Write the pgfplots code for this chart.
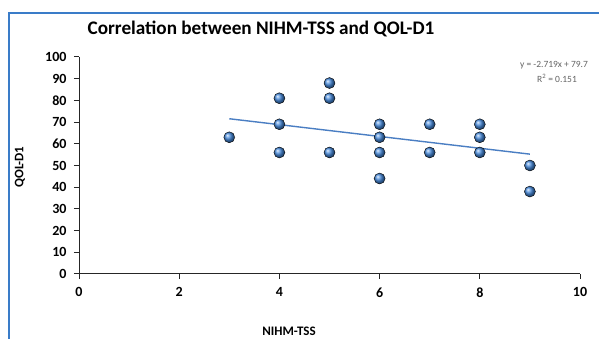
\documentclass[border=0pt]{standalone}
\usepackage{pgfplots}
\pgfplotsset{compat=1.18}
\usepackage{fontspec}
\setmainfont{Carlito}
\definecolor{frameblue}{RGB}{58,124,200}
\definecolor{ballblue}{RGB}{70,138,220}
\definecolor{trendblue}{RGB}{74,126,195}
\definecolor{eqgrey}{RGB}{100,100,100}
\begin{document}
\begin{tikzpicture}[x=1pt,y=1pt]
\useasboundingbox (0,0) rectangle (599,339);
\clip (0,0) rectangle (599,339);
\fill[white] (0,0) rectangle (599,339);
\draw[frameblue, line width=2.6pt] (9,-10) -- (9,326) -- (610,326);
\begin{axis}[
  at={(79pt,65pt)}, anchor=south west,
  scale only axis, width=501pt, height=217pt,
  xmin=0, xmax=10, ymin=0, ymax=100,
  axis lines=left,
  axis line style={-, black!85, line width=1pt},
  xtick={0,2,...,10}, ytick={0,10,...,100},
  tick align=outside, tick style={black!85, line width=1pt},
  major tick length=5pt,
  /pgf/number format/assume math mode=true,
  ticklabel style={font=\bfseries\fontsize{14}{14}\selectfont},
  xticklabel style={yshift=-5pt},
  yticklabel style={xshift=-4pt},
  clip=false,
]
\addplot[trendblue, line width=1.4pt, no marks] coordinates {(3,71.543) (9,55.229)};
\addplot[only marks, mark=ball, mark size=5.5pt, mark options={ball color=ballblue}] coordinates {
(3,63)
(4,81) (4,69) (4,56)
(5,88) (5,81) (5,56)
(6,69) (6,63) (6,56) (6,44)
(7,69) (7,56)
(8,69) (8,63) (8,56)
(9,50) (9,38)
};
\end{axis}
\node[font=\bfseries\fontsize{19.2}{19.2}\selectfont] at (261,310) {Correlation between NIHM-TSS and QOL-D1};
\node[rotate=90, font=\bfseries\fontsize{13}{13}\selectfont] at (20,172) {QOL-D1};
\node[font=\bfseries\fontsize{13}{13}\selectfont] at (289,8) {NIHM-TSS};
\node[eqgrey, font=\fontsize{9.5}{9.5}\selectfont] at (554,274) {y = -2.719x + 79.7};
\node[eqgrey, font=\fontsize{9.5}{9.5}\selectfont] at (557,261) {R\textsuperscript{2} = 0.151};
\end{tikzpicture}
\end{document}
